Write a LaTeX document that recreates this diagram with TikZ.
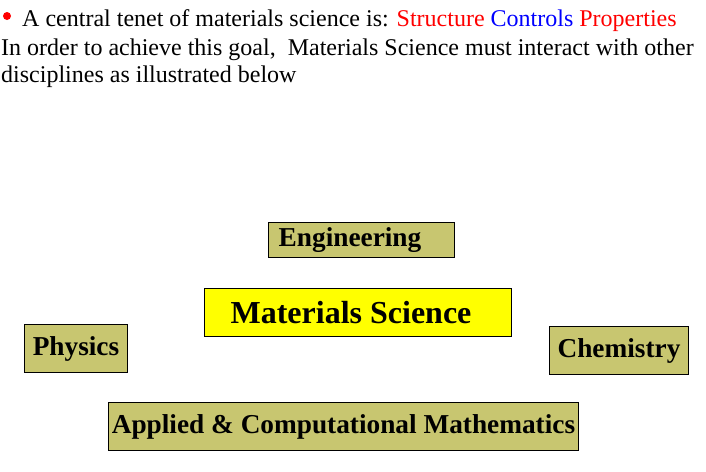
\documentclass[tikz,border=0pt]{standalone}
\usepackage{fontspec}
\setmainfont{Liberation Serif}
\usepackage{xcolor}
\usetikzlibrary{positioning}
\definecolor{olivebox}{RGB}{200,198,112}
\definecolor{msyellow}{RGB}{255,255,0}
\definecolor{msred}{RGB}{255,0,0}
\definecolor{msblue}{RGB}{0,0,255}

\begin{document}
\begin{tikzpicture}[
  x=1pt, y=-1pt,
  discbox/.style={draw, line width=1pt, fill=olivebox, inner sep=0pt,
    anchor=north west, font=\fontsize{27.3}{30}\selectfont\bfseries},
  headline/.style={anchor=base west, inner sep=0pt,
    font=\fontsize{24}{27}\selectfont}
]
\useasboundingbox (0,0) rectangle (706,471);

% ---- HEADER: tenet and explanation ----
\node[circle, fill=msred, inner sep=0pt, minimum size=8pt] (bullet) at (7,16) {};
\node[headline] (tenet) at (22,27)
  {A central tenet of materials science is: \textcolor{msred}{Structure}
  \textcolor{msblue}{Controls} \textcolor{msred}{Properties}};
\node[headline] (goal) at (1,55)
  {In order to achieve this goal,\ \ Materials Science must interact with other};
\node[headline] (below) at (1,82) {disciplines as illustrated below};

% ---- CENTRE: Materials Science ----
\node[discbox, fill=msyellow, minimum width=307pt, minimum height=48pt,
      font=\fontsize{32}{35}\selectfont\bfseries] (matsci) at (204,288)
  {Materials Science\hspace*{14pt}};

% ---- SURROUNDING DISCIPLINES ----
\node[discbox, minimum width=186pt, minimum height=35pt] (eng) at (268,222)
  {Engineering\hspace*{23pt}};
\node[discbox, minimum width=103pt, minimum height=48pt] (phys) at (24,324)
  {Physics};
\node[discbox, minimum width=139pt, minimum height=48pt] (chem) at (549,326)
  {Chemistry};
\node[discbox, minimum width=470pt, minimum height=48pt] (math) at (108,402)
  {Applied \& Computational Mathematics};

\end{tikzpicture}
\end{document}
